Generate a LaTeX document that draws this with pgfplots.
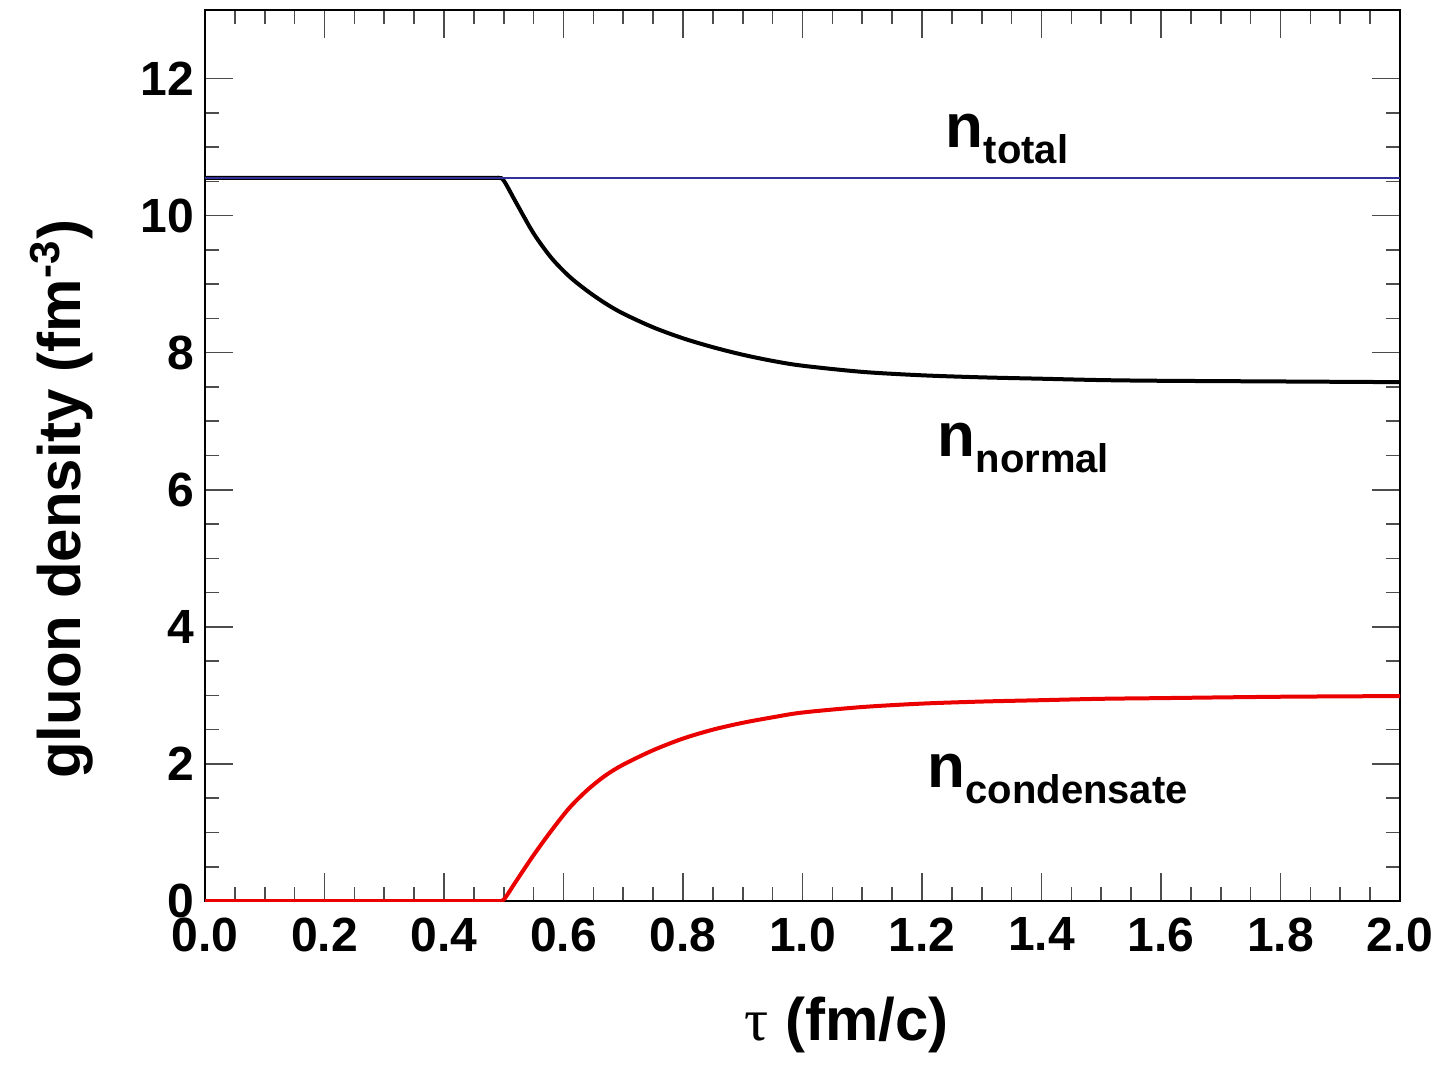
\documentclass[border=0pt]{standalone}
\usepackage{fontspec}
\setmainfont{Liberation Sans}
\newfontfamily\serifsym{Liberation Serif}
\usepackage{pgfplots}
\pgfplotsset{compat=1.18}
\newcommand\nlab[1]{{\fontsize{15.5}{18}\selectfont\bfseries n\raisebox{-4pt}{\fontsize{10}{12}\selectfont\bfseries #1}}}
\begin{document}
\begin{tikzpicture}
\useasboundingbox (0,0) rectangle (360.25pt,266.75pt);
\begin{axis}[
  at={(51.25pt,41.5pt)}, anchor=south west,
  width=298.75pt, height=222.75pt, scale only axis,
  xmin=0, xmax=2, ymin=0, ymax=13,
  xtick={0,0.2,0.4,0.6,0.8,1.0,1.2,1.4,1.6,1.8,2.0},
  minor x tick num=3,
  ytick={0,2,4,6,8,10,12},
  minor y tick num=3,
  tick align=inside,
  major tick length=7pt, minor tick length=3.5pt,
  every tick/.style={black!70, line width=0.4pt},
  axis line style={line width=0.6pt},
  /pgf/number format/assume math mode=true,
  tick label style={font=\bfseries\fontsize{12}{14}\selectfont},
  x tick label style={/pgf/number format/.cd, fixed, fixed zerofill, precision=1, /tikz/.cd, inner sep=0pt, anchor=north, yshift=-4pt},
  y tick label style={inner sep=0pt, anchor=east, xshift=-2.5pt},
  xlabel={{\serifsym\mdseries τ} (fm/c)},
  xlabel style={at={(axis description cs:0.537,-0.139)}, anchor=center, font=\bfseries\fontsize{15}{18}\selectfont},
  ylabel={gluon density (fm\textsuperscript{-3})},
  ylabel style={at={(axis description cs:-0.1197,0.451)}, anchor=center, font=\bfseries\fontsize{15}{18}\selectfont},
]
% n_normal
\addplot[black, line width=1pt, smooth, tension=0.5] coordinates {
(0,10.55) (0.45,10.55) (0.49,10.55) (0.50,10.51) (0.52,10.20) (0.55,9.74) (0.58,9.38)
(0.61,9.11) (0.64,8.90) (0.67,8.72) (0.70,8.57) (0.75,8.37) (0.80,8.21)
(0.85,8.08) (0.90,7.97) (0.95,7.88) (1.00,7.81) (1.10,7.72) (1.20,7.67)
(1.30,7.64) (1.40,7.62) (1.50,7.60) (1.60,7.59) (1.80,7.58) (2.00,7.57)
};
% n_condensate
\addplot[red!92!black, line width=1pt, smooth, tension=0.5] coordinates {
(0,0) (0.45,0) (0.49,0) (0.50,0.02) (0.52,0.28) (0.55,0.67) (0.58,1.03)
(0.61,1.36) (0.64,1.62) (0.67,1.83) (0.70,1.99) (0.75,2.20) (0.80,2.37)
(0.85,2.50) (0.90,2.60) (0.95,2.68) (1.00,2.75) (1.10,2.83) (1.20,2.88)
(1.30,2.91) (1.40,2.93) (1.50,2.95) (1.60,2.96) (1.80,2.98) (2.00,2.99)
};
% n_total
\addplot[color={rgb,255:red,50;green,50;blue,150}, line width=0.5pt] coordinates {
(0,10.55) (2.0,10.55)
};
\node[anchor=base west, inner sep=0pt] at (axis cs:1.2385,11.0) {\nlab{total}};
\node[anchor=base west, inner sep=0pt] at (axis cs:1.225,6.48) {\nlab{normal}};
\node[anchor=base west, inner sep=0pt] at (axis cs:1.208,1.66) {\nlab{condensate}};
\end{axis}
\end{tikzpicture}
\end{document}
